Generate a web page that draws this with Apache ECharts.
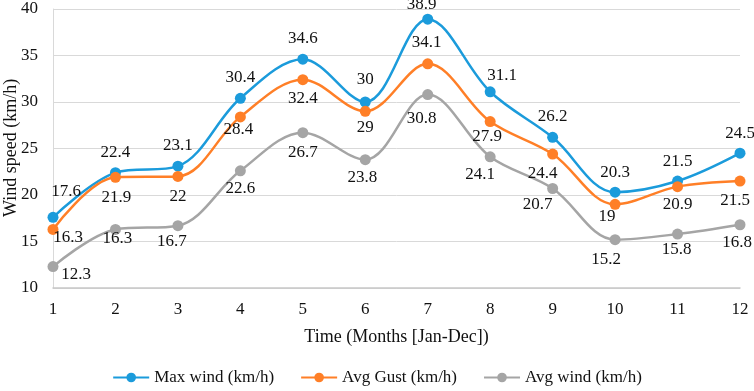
<!DOCTYPE html>
<html>
<head>
<meta charset="utf-8">
<script src="https://cdn.jsdelivr.net/npm/echarts@6/dist/echarts.min.js"></script>
<style>html,body{margin:0;padding:0;background:#fff}#c{width:754px;height:391px}</style>
</head>
<body>
<div id="c"></div>
<script>
const months = ['1','2','3','4','5','6','7','8','9','10','11','12'];
const maxWind = [17.6, 22.4, 23.1, 30.4, 34.6, 30, 38.9, 31.1, 26.2, 20.3, 21.5, 24.5];
const avgGust = [16.3, 21.9, 22, 28.4, 32.4, 29, 34.1, 27.9, 24.4, 19, 20.9, 21.5];
const avgWind = [12.3, 16.3, 16.7, 22.6, 26.7, 23.8, 30.8, 24.1, 20.7, 15.2, 15.8, 16.8];
const yTicks = {min: 10, max: 40, interval: 5};

// label offsets (style only)
const maxOff = [[13,-26],[0,-20],[0,-21],[0,-21],[0,-21],[0,-22],[-6,-15],[12,-16],[0,-21],[0,-20],[0,-20],[0,-20]];
const gustOff = [[15,8],[1,20],[0,20],[-2,13],[0,19],[0,16],[-1,-21],[-3,15],[-10,19],[-8,12],[0,18],[-5,19]];
const avgOff = [[23,8],[2,9],[-6,16],[0,18],[0,20],[-3,18],[-6,24],[-10,18],[-15,16],[-9,20],[-1,15],[-3,18]];

const FONT = "'Liberation Serif', 'Times New Roman', serif";

function mk(name, vals, offs, color) {
  return {
    name: name,
    type: 'line',
    smooth: 0.35,
    symbol: 'circle',
    symbolSize: 11,
    lineStyle: {width: 2.5, color: color},
    itemStyle: {color: color},
    data: vals.map((v, i) => ({
      value: v,
      label: {offset: offs[i]}
    })),
    label: {
      show: true,
      position: 'inside',
      align: 'center',
      verticalAlign: 'middle',
      color: '#111',
      fontFamily: FONT,
      fontSize: 17
    },
    emphasis: {disabled: true}
  };
}

const chart = echarts.init(document.getElementById('c'), null, {renderer: 'canvas'});
chart.setOption({
  animation: false,
  backgroundColor: '#fff',
  grid: {left: 53, right: 14, top: 9, bottom: 103, containLabel: false, outerBoundsMode: 'none'},
  legend: {
    bottom: 0,
    left: 'center',
    itemWidth: 36,
    itemHeight: 12,
    itemGap: 26,
    textStyle: {fontFamily: FONT, fontSize: 17, color: '#111'},
    data: ['Max wind (km/h)', 'Avg Gust (km/h)', 'Avg wind (km/h)']
  },
  xAxis: {
    type: 'category',
    data: months,
    boundaryGap: false,
    name: 'Time (Months [Jan-Dec])',
    nameLocation: 'middle',
    nameGap: 40,
    nameMoveOverlap: false,
    nameTextStyle: {fontFamily: FONT, fontSize: 18, color: '#111'},
    axisLine: {show: true, lineStyle: {color: '#c8c8c8', width: 1.5}},
    axisTick: {show: false},
    axisLabel: {fontFamily: FONT, fontSize: 17, color: '#111', margin: 13},
    splitLine: {show: false}
  },
  yAxis: {
    type: 'value',
    min: yTicks.min,
    max: yTicks.max,
    interval: yTicks.interval,
    axisLine: {show: true, lineStyle: {color: '#d9d9d9', width: 1}},
    axisTick: {show: false},
    axisLabel: {fontFamily: FONT, fontSize: 17, color: '#111', margin: 15},
    splitLine: {show: true, lineStyle: {color: '#d9d9d9', width: 1}}
  },
  graphic: [{
    type: 'text',
    x: 11,
    y: 148,
    rotation: Math.PI / 2,
    style: {
      text: 'Wind speed (km/h)',
      fontFamily: FONT,
      fontSize: 18,
      fill: '#111',
      align: 'center',
      verticalAlign: 'middle'
    }
  }],
  series: [
    mk('Max wind (km/h)', maxWind, maxOff, '#1b9bdb'),
    mk('Avg Gust (km/h)', avgGust, gustOff, '#ff7f27'),
    mk('Avg wind (km/h)', avgWind, avgOff, '#a5a5a5')
  ]
});
</script>
</body>
</html>
